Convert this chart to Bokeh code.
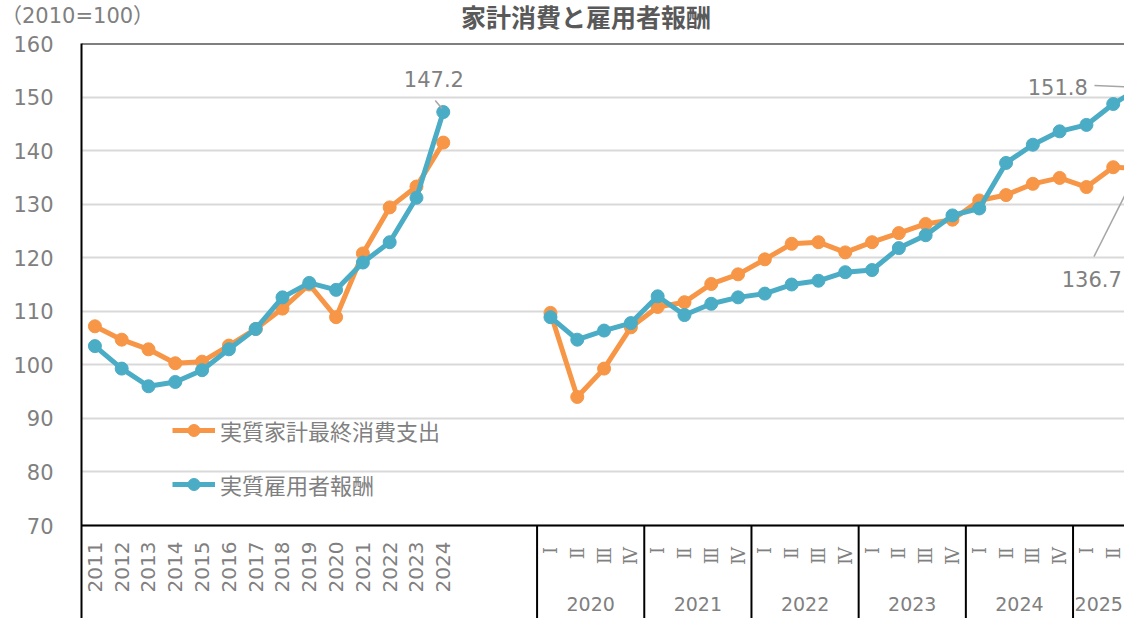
import numpy as np
from bokeh.plotting import figure
from bokeh.layouts import column
from bokeh.models import (Range1d, FixedTicker, ColumnDataSource, Span,
                          Legend, LegendItem, Div)
from bokeh.core.properties import value
from bokeh.embed import file_html
from bokeh.resources import INLINE

# ---------------- data ----------------
annual_years = ["2011", "2012", "2013", "2014", "2015", "2016", "2017",
                "2018", "2019", "2020", "2021", "2022", "2023", "2024"]
annual_consumption = [107.2, 104.7, 102.9, 100.3, 100.6, 103.6, 106.7,
                      110.5, 115.0, 108.9, 120.8, 129.4, 133.3, 141.5]
annual_compensation = [103.5, 99.3, 96.0, 96.8, 99.0, 102.9, 106.7,
                       112.6, 115.3, 114.0, 119.1, 122.9, 131.2, 147.2]

quarter_years = ["2020", "2021", "2022", "2023", "2024", "2025"]
quarter_names = ["Ⅰ", "Ⅱ", "Ⅲ", "Ⅳ"]
quarterly_consumption = [109.7, 94.0, 99.3, 107.0,
                         110.8, 111.7, 115.1, 116.9,
                         119.7, 122.6, 122.9, 121.0,
                         122.9, 124.6, 126.3, 127.1,
                         130.7, 131.7, 133.8, 134.9,
                         133.2, 136.9, 136.7]
quarterly_compensation = [108.9, 104.7, 106.4, 107.8,
                          112.8, 109.3, 111.4, 112.6,
                          113.3, 115.0, 115.7, 117.3,
                          117.7, 121.8, 124.2, 127.9,
                          129.2, 137.7, 141.1, 143.6,
                          144.8, 148.7, 151.8]

series_names = ["実質家計最終消費支出", "実質雇用者報酬"]
title_text = "家計消費と雇用者報酬"
unit_text = "（2010=100）"

# ---------------- styling ----------------
ORANGE = "#F79646"
BLUE = "#4BACC6"
GRAY_TXT = "#808080"
GRID = "#d9d9d9"
NUM_FONT = "DejaVu Sans"
JP_FONT = "Noto Sans CJK JP"

# ---------------- category positions ----------------
n_annual = len(annual_years)
gap = 3
q_start = n_annual + gap
annual_x = list(range(n_annual))
quarter_x = [q_start + i for i in range(len(quarterly_consumption))]
quarter_labels = [quarter_names[i % 4] for i in range(len(quarterly_consumption))]

y_top, y_base = 160, 70
y_bottom = 52.64
x_left, x_right = -0.5, 38.42

HEADER_H = 33

p = figure(width=1124, height=618 - HEADER_H, output_backend="svg", toolbar_location=None,
           x_range=Range1d(x_left, x_right), y_range=Range1d(y_bottom, y_top),
           x_axis_location=None, min_border_left=81, min_border_top=43 - HEADER_H,
           min_border_right=0, min_border_bottom=0)
p.outline_line_color = None
p.background_fill_color = "white"
p.border_fill_color = "white"

# y axis
yax = p.yaxis[0]
yax.ticker = FixedTicker(ticks=list(range(y_base, y_top + 1, 10)))
yax.major_label_text_font_size = "21px"
yax.major_label_text_color = GRAY_TXT
yax.major_label_text_font = NUM_FONT
yax.major_tick_out = 0
yax.major_tick_in = 0
yax.minor_tick_line_color = None
yax.axis_line_color = "black"
yax.axis_line_width = 2
yax.major_label_standoff = 28

p.xgrid.visible = False
p.ygrid.grid_line_color = GRID
p.ygrid.grid_line_width = 2

# frame lines
p.add_layout(Span(location=y_top, dimension="width", line_color="black", line_width=2))
p.add_layout(Span(location=y_base, dimension="width", line_color="black", line_width=2))

# separators in category area
boundaries = [q_start - 0.5] + [q_start + 4 * k - 0.5 for k in range(1, len(quarter_years))]
p.segment(x0=boundaries, x1=boundaries, y0=[y_base] * len(boundaries),
          y1=[y_bottom] * len(boundaries), line_color="black", line_width=2)

# series
ann_src = ColumnDataSource(dict(x=annual_x, c=annual_consumption, w=annual_compensation))
q_src = ColumnDataSource(dict(x=quarter_x, c=quarterly_consumption, w=quarterly_compensation))

lo1 = p.line("x", "c", source=ann_src, line_color=ORANGE, line_width=5)
so1 = p.scatter("x", "c", source=ann_src, size=13, fill_color=ORANGE, line_color=ORANGE)
lo2 = p.line("x", "c", source=q_src, line_color=ORANGE, line_width=5)
so2 = p.scatter("x", "c", source=q_src, size=13, fill_color=ORANGE, line_color=ORANGE)
lb1 = p.line("x", "w", source=ann_src, line_color=BLUE, line_width=5)
sb1 = p.scatter("x", "w", source=ann_src, size=13, fill_color=BLUE, line_color=BLUE)
lb2 = p.line("x", "w", source=q_src, line_color=BLUE, line_width=5)
sb2 = p.scatter("x", "w", source=q_src, size=13, fill_color=BLUE, line_color=BLUE)

# category labels
p.text(x=annual_x, y=[67.0] * n_annual, text=annual_years, angle=np.pi / 2,
       text_align="right", text_baseline="middle", text_font=value(NUM_FONT),
       text_font_size="20px", text_color=GRAY_TXT)
vis_q = [x for x in quarter_x if x <= x_right - 0.3]
p.text(x=vis_q, y=[66.0] * len(vis_q), text=quarter_labels[:len(vis_q)], angle=np.pi / 2,
       text_align="right", text_baseline="middle", text_font=value("DejaVu Serif"),
       text_font_size="18px", text_color=GRAY_TXT)
year_centers = []
for k in range(len(quarter_years)):
    lo = q_start + 4 * k - 0.5
    hi = min(q_start + 4 * (k + 1) - 0.5, x_right)
    year_centers.append((lo + hi) / 2)
p.text(x=year_centers, y=[55.3] * len(year_centers), text=quarter_years,
       text_align="center", text_baseline="middle", text_font=value(NUM_FONT),
       text_font_size="19px", text_color=GRAY_TXT)

# data labels
last_a = annual_x[-1]
va = annual_compensation[-1]
p.text(x=[last_a - 0.35], y=[va + 6.1], text=[f"{va:.1f}"], text_align="center",
       text_baseline="middle", text_font=value(NUM_FONT), text_font_size="21px",
       text_color=GRAY_TXT)
p.segment(x0=[last_a - 0.3], y0=[va + 2.15], x1=[last_a - 0.05], y1=[va + 0.65],
          line_color="#a6a6a6", line_width=1.5)

last_q = quarter_x[-1]
vw = quarterly_compensation[-1]
vc = quarterly_consumption[-1]
p.text(x=[last_q - 1.95], y=[vw], text=[f"{vw:.1f}"], text_align="right",
       text_baseline="middle", text_font=value(NUM_FONT), text_font_size="21px",
       text_color=GRAY_TXT)
p.segment(x0=[last_q - 1.7], y0=[vw + 0.35], x1=[last_q - 0.1], y1=[vw + 0.05],
          line_color="#a6a6a6", line_width=1.5)
p.text(x=[last_q - 1.8], y=[vc - 20.6], text=[f"{vc:.1f}"], text_align="center",
       text_baseline="middle", text_font=value(NUM_FONT), text_font_size="21px",
       text_color=GRAY_TXT)
p.segment(x0=[last_q - 1.72], y0=[vc - 16.5], x1=[last_q - 0.1], y1=[vc - 0.4],
          line_color="#a6a6a6", line_width=1.5)

# legend
legend = Legend(items=[LegendItem(label=series_names[0], renderers=[lo1, so1]),
                       LegendItem(label=series_names[1], renderers=[lb1, sb1])],
                location=(91, 118), orientation="vertical", glyph_width=43,
                glyph_height=30, spacing=22, padding=0, margin=0,
                label_standoff=5, label_text_font_size="22px",
                label_text_color=GRAY_TXT, label_text_font=JP_FONT,
                border_line_color=None, background_fill_alpha=0)
p.add_layout(legend)

# header (unit note + chart title)
header_html = (
    f'<div style="position:relative;width:1124px;height:{HEADER_H}px;">'
    f'<span style="position:absolute;left:1px;top:5px;font-family:\'{NUM_FONT}\',\'{JP_FONT}\';'
    f'font-size:21px;line-height:22px;color:{GRAY_TXT};white-space:nowrap;">{unit_text}</span>'
    f'<span style="position:absolute;left:461px;top:3px;font-family:\'{JP_FONT}\';'
    f'font-size:25px;line-height:27px;font-weight:bold;color:#595959;white-space:nowrap;">'
    f'{title_text}</span></div>'
)
header = Div(text=header_html, width=1124, height=HEADER_H, margin=0)

layout = column(header, p, spacing=0)
open("out.html", "w").write(file_html(layout, INLINE))
